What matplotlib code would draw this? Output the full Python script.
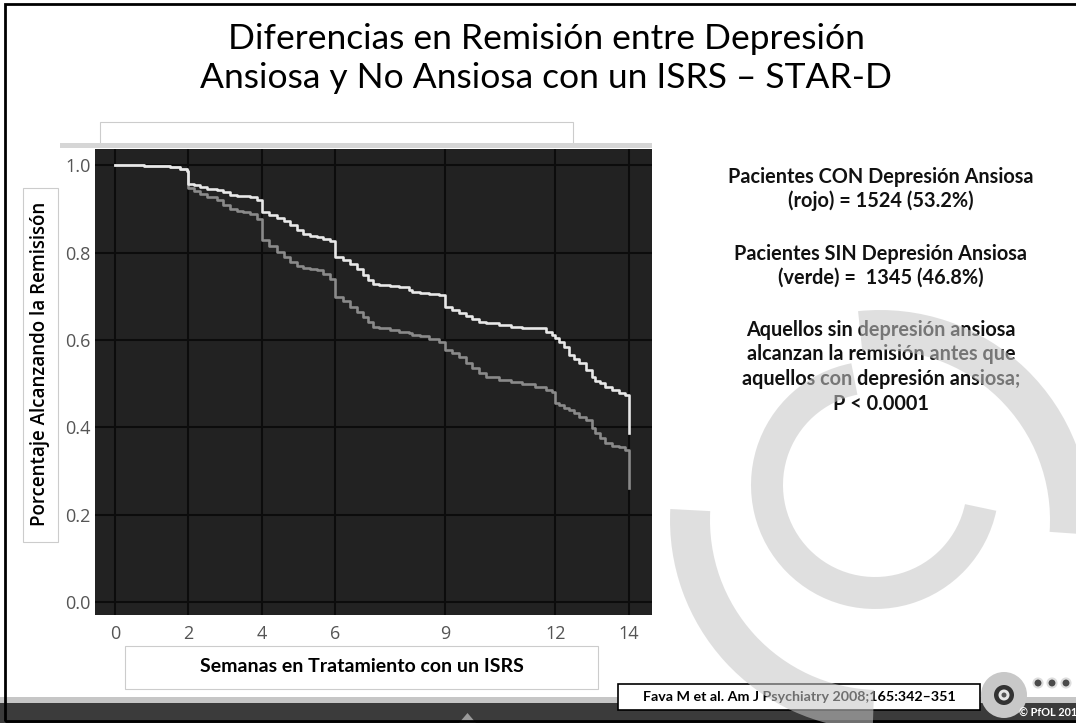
import matplotlib
matplotlib.use('Agg')
import matplotlib.pyplot as plt
from matplotlib.patches import Rectangle, Wedge, Circle, Polygon

plt.rcParams['font.family'] = ['Lato', 'DejaVu Sans']

# datos (curvas de Kaplan-Meier, STAR-D)
semanas = [0, 0.8, 1.2, 1.5, 1.77, 1.95, 2.0, 2.15, 2.32, 2.5, 2.77, 2.95, 3.13, 3.32, 3.5,
           3.68, 3.86, 4.0, 4.2, 4.4, 4.6, 4.77, 4.95, 5.13, 5.3, 5.5, 5.68, 5.85, 6.0, 6.2,
           6.4, 6.58, 6.77, 6.9, 7.04, 7.2, 7.5, 7.75, 8.0, 8.1, 8.3, 8.55, 8.82, 9.0, 9.18,
           9.36, 9.55, 9.73, 9.91, 10.1, 10.45, 10.8, 11.1, 11.45, 11.73, 11.9, 12.0, 12.09,
           12.23, 12.36, 12.5, 12.64, 12.82, 13.0, 13.09, 13.2, 13.36, 13.55, 13.73, 13.9, 14.0]

# sin depresion ansiosa (verde)
sin_ansiedad = [1.000, 0.999, 0.998, 0.996, 0.992, 0.986, 0.958, 0.955, 0.950, 0.946, 0.942,
                0.938, 0.931, 0.930, 0.929, 0.927, 0.920, 0.893, 0.886, 0.879, 0.871, 0.862,
                0.852, 0.842, 0.838, 0.835, 0.831, 0.826, 0.789, 0.782, 0.774, 0.762, 0.748,
                0.738, 0.729, 0.725, 0.723, 0.722, 0.715, 0.710, 0.707, 0.705, 0.702, 0.676,
                0.669, 0.662, 0.655, 0.648, 0.641, 0.638, 0.634, 0.630, 0.628, 0.626, 0.618,
                0.612, 0.604, 0.594, 0.584, 0.566, 0.556, 0.546, 0.532, 0.514, 0.506, 0.502,
                0.492, 0.485, 0.478, 0.474, 0.386]

# con depresion ansiosa (rojo)
con_ansiedad = [1.000, 0.999, 0.998, 0.996, 0.992, 0.986, 0.947, 0.941, 0.935, 0.928, 0.920,
                0.908, 0.899, 0.895, 0.892, 0.889, 0.876, 0.828, 0.814, 0.801, 0.789, 0.779,
                0.769, 0.765, 0.762, 0.759, 0.750, 0.740, 0.699, 0.689, 0.676, 0.664, 0.652,
                0.640, 0.630, 0.626, 0.622, 0.619, 0.615, 0.612, 0.608, 0.603, 0.596, 0.577,
                0.569, 0.561, 0.548, 0.535, 0.523, 0.515, 0.507, 0.503, 0.499, 0.492, 0.485,
                0.481, 0.455, 0.450, 0.444, 0.439, 0.432, 0.424, 0.416, 0.398, 0.386, 0.375,
                0.363, 0.358, 0.354, 0.348, 0.261]

assert len(semanas) == len(sin_ansiedad) == len(con_ansiedad)

x_ticks = [0, 2, 4, 6, 9, 12, 14]
y_ticks = [0.0, 0.2, 0.4, 0.6, 0.8, 1.0]

titulo = ['Diferencias en Remisión entre Depresión',
          'Ansiosa y No Ansiosa con un ISRS – STAR-D']
texto_derecha = ['Pacientes CON Depresión Ansiosa', '(rojo) = 1524 (53.2%)',
                 'Pacientes SIN Depresión Ansiosa', '(verde) =  1345 (46.8%)',
                 'Aquellos sin depresión ansiosa', 'alcanzan la remisión antes que',
                 'aquellos con depresión ansiosa;', 'P < 0.0001']
cita = 'Fava M et al. Am J Psychiatry 2008;165:342–351'

W, H = 1076, 723
fig = plt.figure(figsize=(W / 100, H / 100), dpi=100)
fig.patch.set_facecolor('white')


def py(y):
    # pixel (desde arriba) -> coordenada del eje de fondo
    return H - y


# fondo de la diapositiva
bg = fig.add_axes([0, 0, 1, 1], zorder=0)
bg.set_xlim(0, W)
bg.set_ylim(0, H)
bg.axis('off')

# barra inferior
bg.add_patch(Rectangle((0, 0), W, 20, fc='#3b3b3b', ec='none'))
bg.add_patch(Rectangle((0, 20), W, 6, fc='#c6c6c6', ec='none'))
bg.add_patch(Polygon([(459, 0), (476, 0), (467.5, 10)], fc='#9a9a9a', ec='none'))
bg.add_patch(Rectangle((5, py(721)), 1090, 717, fill=False, ec='black', lw=2, zorder=4))

# titulo
bg.text(546, py(49), titulo[0], ha='center', va='baseline', fontsize=25.5, color='black')
bg.text(546, py(88), titulo[1], ha='center', va='baseline', fontsize=25.5, color='black')

# cajas vacias / etiquetas
bg.add_patch(Rectangle((100, py(145)), 473, 23, fill=False, ec='#cccccc', lw=0.8))
bg.add_patch(Rectangle((60, py(148)), 592, 5, fc='#d6d6d6', ec='none'))
bg.add_patch(Rectangle((23, py(542)), 35, 354, fill=False, ec='#cccccc', lw=0.8))
bg.text(40.5, py(364), 'Porcentaje Alcanzando la Remisisón', rotation=90, ha='center',
        va='center', fontsize=13.5, family='Open Sans', fontweight='semibold', color='black')
bg.add_patch(Rectangle((125, py(689)), 473, 43, fill=False, ec='#cccccc', lw=0.8))
bg.text(362, py(667), 'Semanas en Tratamiento con un ISRS', ha='center', va='center',
        fontsize=14, fontweight='bold', color='black')

# texto de la derecha
for txt, yy in zip(texto_derecha, [177, 201, 254, 278, 330, 354, 379, 404]):
    bg.text(881, py(yy), txt, ha='center', va='center', fontsize=14.3, fontweight='bold',
            color='#111111')

# cita
bg.add_patch(Rectangle((618, py(710)), 362, 26, fc='white', ec='black', lw=1.2, zorder=3))
bg.text(799, py(697), cita, ha='center', va='center', fontsize=10.3, fontweight='bold',
        color='black', zorder=4)

# logo
bg.add_patch(Circle((1004, py(695)), 23, fc='#c8c8c8', ec='none', zorder=3))
bg.add_patch(Circle((1004, py(695)), 10, fc='#333333', ec='none', zorder=3))
bg.add_patch(Circle((1004, py(695)), 5.5, fc='#e6e6e6', ec='none', zorder=3))
bg.add_patch(Circle((1004, py(695)), 2.5, fc='#555555', ec='none', zorder=3))
for xd in [1038, 1052, 1066]:
    bg.add_patch(Circle((xd, py(683)), 4.5, fc='#4a4a4a', ec='#dddddd', lw=1.5, zorder=3))
bg.text(1019, py(713), '© PfOL 201', ha='left', va='center', fontsize=7.8,
        fontweight='bold', color='white', zorder=4)

# grafico
ax = fig.add_axes([95 / W, (H - 615) / H, 557 / W, 466 / H], zorder=1)
ax.set_facecolor('#222222')
ax.plot(semanas, con_ansiedad, drawstyle='steps-post', color='#8a8a8a', lw=1.9, zorder=3)
ax.plot(semanas, sin_ansiedad, drawstyle='steps-post', color='#e8e8e8', lw=1.9, zorder=4)
ax.set_xlim(-0.545, 14.63)
ax.set_ylim(-0.030, 1.037)
ax.set_xticks(x_ticks)
ax.set_xticklabels([str(t) for t in x_ticks], family='Open Sans')
ax.set_yticks(y_ticks)
ax.set_yticklabels(['%.1f' % t for t in y_ticks], family='Open Sans')
ax.grid(True, color='#0c0c0c', lw=1.5)
ax.set_axisbelow(True)
ax.tick_params(length=0, labelsize=13, labelcolor='#555555')
ax.tick_params(axis='x', pad=7)
ax.tick_params(axis='y', pad=3)
for s in ax.spines.values():
    s.set_visible(False)

# arcos decorativos semitransparentes
ov = fig.add_axes([0, 0, 1, 1], zorder=3)
ov.set_xlim(0, W)
ov.set_ylim(0, H)
ov.axis('off')
ov.patch.set_alpha(0)
arco = dict(fc=(0.78, 0.78, 0.78), alpha=0.56, ec='none')
ov.add_patch(Wedge((880, py(520)), 210, 177, 268, width=40, **arco))
ov.add_patch(Wedge((880, py(520)), 210, -4, 96, width=40, **arco))
ov.add_patch(Wedge((875, py(485)), 124, 101, 348, width=32, **arco))

fig.savefig('out.png', dpi=100, facecolor='white')
